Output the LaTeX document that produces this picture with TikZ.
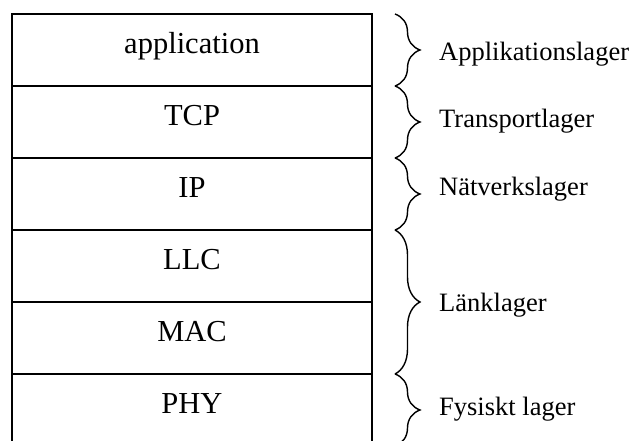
\documentclass[tikz,border=0pt]{standalone}
\usepackage{fontspec}
\setmainfont{Liberation Serif}
\usetikzlibrary{positioning,decorations.pathreplacing}

\begin{document}
\begin{tikzpicture}[x=1pt, y=-1pt,
    layer/.style={draw, line width=1.8pt, outer sep=0pt,
      minimum width=360pt, minimum height=72pt,
      text height=21pt, text depth=14pt,
      font=\fontsize{30.5}{36}\selectfont},
    lagerbrace/.style={decorate, decoration={brace, amplitude=25pt},
      line width=1.4pt},
    lagertext/.style={anchor=base west, inner sep=0pt,
      font=\fontsize{26.5}{32}\selectfont}]
  \useasboundingbox (0,0) rectangle (633,441);
  \clip (0,0) rectangle (633,441);
  % protocol stack
  \node[layer] (app) at (192,50) {application};
  \node[layer, below=0pt of app] (tcp) {TCP};
  \node[layer, below=0pt of tcp] (ip) {IP};
  \node[layer, below=0pt of ip] (llc) {LLC};
  \node[layer, below=0pt of llc] (mac) {MAC};
  \node[layer, below=0pt of mac] (phy) {PHY};
  % braces
  \draw[lagerbrace] ([xshift=23pt]app.north east) -- ([xshift=23pt]app.south east);
  \draw[lagerbrace] ([xshift=23pt]tcp.north east) -- ([xshift=23pt]tcp.south east);
  \draw[lagerbrace] ([xshift=23pt]ip.north east) -- ([xshift=23pt]ip.south east);
  \draw[lagerbrace] ([xshift=23pt]llc.north east) -- ([xshift=23pt]mac.south east);
  \draw[lagerbrace] ([xshift=23pt]phy.north east) -- ([xshift=23pt]phy.south east);
  % layer names
  \node[lagertext] (applager) at (439,61) {Applikationslager};
  \node[lagertext] (translager) at (439,128) {Transportlager};
  \node[lagertext] (natlager) at (439,196) {Nätverkslager};
  \node[lagertext] (lanklager) at (439,312) {Länklager};
  \node[lagertext] (fyslager) at (439,415) {Fysiskt lager};
\end{tikzpicture}
\end{document}
